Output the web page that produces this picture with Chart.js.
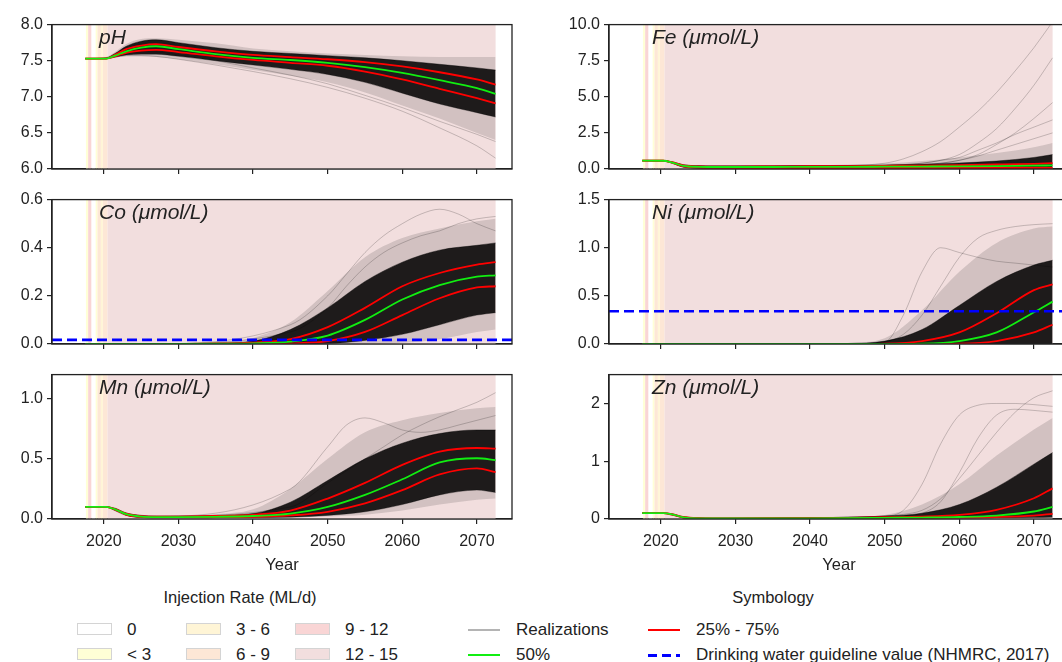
<!DOCTYPE html>
<html>
<head>
<meta charset="utf-8">
<script src="https://cdn.jsdelivr.net/npm/chart.js@4.4.1/dist/chart.umd.min.js"></script>
<style>
  body { margin: 0; width: 1062px; height: 662px; overflow: hidden; background: #fff; position: relative;
         font-family: "Liberation Sans", Arial, sans-serif; color: #222; }
  canvas { position: absolute; }
  .ptitle { position: absolute; font-style: italic; font-size: 21px; line-height: 1; white-space: nowrap; }
  .lgtitle { position: absolute; font-size: 16.5px; line-height: 1; transform: translateX(-50%); white-space: nowrap; }
  .lgtext { position: absolute; font-size: 17px; line-height: 1; white-space: nowrap; }
  .sw { position: absolute; width: 33px; height: 10px; border: 1.5px solid #d4d4d4; }
  .ln { position: absolute; width: 32px; height: 2px; }
</style>
</head>
<body>
<canvas id="cPH" width="530" height="198" style="left:0;top:11px"></canvas>
<canvas id="cFE" width="545" height="198" style="left:530px;top:11px"></canvas>
<canvas id="cCO" width="530" height="198" style="left:0;top:186px"></canvas>
<canvas id="cNI" width="545" height="198" style="left:530px;top:186px"></canvas>
<canvas id="cMN" width="530" height="214" style="left:0;top:361px"></canvas>
<canvas id="cZN" width="545" height="214" style="left:530px;top:361px"></canvas>

<div class="ptitle" style="left:99px;top:26px">pH</div>
<div class="ptitle" style="left:652px;top:26px">Fe (μmol/L)</div>
<div class="ptitle" style="left:99px;top:201px">Co (μmol/L)</div>
<div class="ptitle" style="left:652px;top:201px">Ni (μmol/L)</div>
<div class="ptitle" style="left:99px;top:376px">Mn (μmol/L)</div>
<div class="ptitle" style="left:652px;top:376px">Zn (μmol/L)</div>

<div class="lgtitle" style="left:240px;top:589px">Injection Rate (ML/d)</div>
<div class="lgtitle" style="left:773px;top:589px">Symbology</div>
<div id="legend"></div>

<script>
// shared time grid (years) for the summary curves
const years = [2017.5, 2020.3, 2021.5, 2023, 2025, 2027, 2030, 2035, 2040, 2045, 2050, 2055, 2060, 2065, 2070, 2072.5];
// time grid for single visible realizations
const outYears = [2017.5, 2020.3, 2023, 2025, 2045, 2050, 2052.5, 2055, 2057.5, 2060, 2062.5, 2065, 2067.5, 2070, 2072.5];
const xTicks = [2020, 2030, 2040, 2050, 2060, 2070];

// injection rate periods (class index into rateLabels)
const bandStart = [2017.6, 2017.9, 2018.35, 2018.9, 2019.15, 2019.6, 2019.87, 2020.5];
const bandEnd   = [2017.9, 2018.35, 2018.9, 2019.15, 2019.6, 2019.87, 2020.5, 2072.5];
const bandRate  = [1, 4, 0, 1, 3, 2, 3, 5];
const rateLabels = ['0', '< 3', '3 - 6', '6 - 9', '9 - 12', '12 - 15'];
const rateColors = ['#ffffff', '#ffffd6', '#fff5d6', '#fde7d6', '#f9d5d5', '#f2dede'];

// pH
const phP50 = [7.53, 7.53, 7.57, 7.63, 7.68, 7.70, 7.66, 7.59, 7.54, 7.51, 7.47, 7.41, 7.33, 7.23, 7.12, 7.04];
const phP75 = [7.53, 7.53, 7.58, 7.66, 7.71, 7.73, 7.69, 7.63, 7.58, 7.55, 7.52, 7.48, 7.42, 7.34, 7.24, 7.17];
const phP25 = [7.53, 7.53, 7.56, 7.61, 7.64, 7.65, 7.62, 7.56, 7.51, 7.47, 7.43, 7.35, 7.24, 7.11, 6.98, 6.91];
const phDenseHi = [7.53, 7.54, 7.60, 7.70, 7.77, 7.79, 7.75, 7.68, 7.63, 7.60, 7.57, 7.54, 7.50, 7.45, 7.40, 7.37];
const phDenseLo = [7.53, 7.53, 7.55, 7.58, 7.59, 7.59, 7.56, 7.50, 7.44, 7.38, 7.31, 7.20, 7.05, 6.90, 6.78, 6.72];
const phOuterHi = [7.53, 7.55, 7.62, 7.73, 7.80, 7.81, 7.79, 7.74, 7.67, 7.63, 7.60, 7.58, 7.56, 7.55, 7.55, 7.55];
const phOuterLo = [7.53, 7.53, 7.54, 7.56, 7.56, 7.55, 7.52, 7.45, 7.37, 7.29, 7.20, 7.06, 6.88, 6.70, 6.50, 6.40];
const phOut1 = [7.53, 7.53, 7.55, 7.57, 7.57, 7.56, 7.52, 7.44, 7.35, 7.25, 7.13, 6.98, 6.80, 6.57, 6.32, 6.15];
const phOut2 = [7.53, 7.53, 7.56, 7.60, 7.62, 7.62, 7.58, 7.50, 7.40, 7.30, 7.18, 7.02, 6.85, 6.66, 6.48, 6.38];

// Fe
const feP50 = [0.58, 0.57, 0.45, 0.22, 0.15, 0.14, 0.14, 0.14, 0.15, 0.15, 0.16, 0.17, 0.18, 0.20, 0.23, 0.25];
const feP75 = [0.58, 0.57, 0.47, 0.25, 0.18, 0.17, 0.17, 0.18, 0.19, 0.20, 0.22, 0.24, 0.27, 0.31, 0.36, 0.40];
const feP25 = [0.58, 0.57, 0.43, 0.18, 0.10, 0.08, 0.07, 0.07, 0.07, 0.07, 0.07, 0.07, 0.07, 0.07, 0.07, 0.07];
const feDenseHi = [0.58, 0.58, 0.50, 0.30, 0.22, 0.20, 0.20, 0.21, 0.22, 0.24, 0.27, 0.33, 0.42, 0.55, 0.80, 1.00];
const feDenseLo = [0.58, 0.56, 0.40, 0.12, 0.05, 0.03, 0.02, 0.02, 0.02, 0.02, 0.02, 0.02, 0.02, 0.02, 0.02, 0.02];
const feOuterHi = [0.58, 0.58, 0.52, 0.33, 0.25, 0.23, 0.23, 0.25, 0.27, 0.30, 0.38, 0.55, 0.80, 1.10, 1.50, 1.80];
const feOuterLo = [0.58, 0.55, 0.38, 0.10, 0.02, 0.01, 0.01, 0.01, 0.01, 0.01, 0.01, 0.01, 0.01, 0.01, 0.01, 0.01];
const feOut1 = [0.58, 0.58, 0.22, 0.2, 0.25, 0.40, 0.70, 1.2, 1.9, 2.9, 4.0, 5.3, 6.8, 8.4, 10.2];
const feOut2 = [0.58, 0.58, 0.22, 0.2, 0.22, 0.25, 0.30, 0.4, 0.6, 1.0, 1.8, 2.8, 4.2, 5.8, 7.7];
const feOut3 = [0.58, 0.58, 0.22, 0.2, 0.22, 0.25, 0.28, 0.3, 0.4, 0.6, 1.0, 1.7, 2.5, 3.5, 4.6];
const feOut4 = [0.58, 0.58, 0.22, 0.2, 0.22, 0.25, 0.30, 0.4, 0.6, 0.8, 1.3, 1.8, 2.4, 2.9, 3.4];
const feOut5 = [0.58, 0.58, 0.22, 0.2, 0.22, 0.24, 0.26, 0.3, 0.4, 0.6, 0.9, 1.3, 1.7, 2.1, 2.5];

// Co
const coP50 = [0, 0, 0, 0, 0, 0, 0, 0.001, 0.003, 0.010, 0.035, 0.100, 0.185, 0.245, 0.280, 0.285];
const coP75 = [0, 0, 0, 0, 0, 0, 0, 0.002, 0.006, 0.020, 0.070, 0.150, 0.240, 0.295, 0.330, 0.340];
const coP25 = [0, 0, 0, 0, 0, 0, 0, 0, 0.001, 0.003, 0.012, 0.050, 0.120, 0.190, 0.235, 0.240];
const coDenseHi = [0, 0, 0, 0, 0, 0, 0, 0.003, 0.012, 0.060, 0.150, 0.260, 0.340, 0.390, 0.410, 0.420];
const coDenseLo = [0, 0, 0, 0, 0, 0, 0, 0, 0, 0, 0.002, 0.015, 0.040, 0.080, 0.120, 0.130];
const coOuterHi = [0, 0, 0, 0, 0, 0, 0, 0.005, 0.025, 0.090, 0.220, 0.360, 0.440, 0.480, 0.510, 0.520];
const coOuterLo = [0, 0, 0, 0, 0, 0, 0, 0, 0, 0, 0, 0, 0.005, 0.020, 0.050, 0.060];
const coOut1 = [0, 0, 0, 0, 0.08, 0.20, 0.29, 0.38, 0.45, 0.50, 0.54, 0.56, 0.54, 0.50, 0.47];
const coOut2 = [0, 0, 0, 0, 0.05, 0.15, 0.24, 0.32, 0.38, 0.42, 0.45, 0.47, 0.50, 0.52, 0.53];
const coGuide = 0.017;

// Ni
const niP50 = [0, 0, 0, 0, 0, 0, 0, 0, 0, 0, 0, 0.003, 0.030, 0.120, 0.330, 0.440];
const niP75 = [0, 0, 0, 0, 0, 0, 0, 0, 0, 0, 0.003, 0.030, 0.120, 0.320, 0.560, 0.620];
const niP25 = [0, 0, 0, 0, 0, 0, 0, 0, 0, 0, 0, 0, 0.003, 0.030, 0.120, 0.200];
const niDenseHi = [0, 0, 0, 0, 0, 0, 0, 0, 0, 0.005, 0.030, 0.150, 0.400, 0.650, 0.820, 0.870];
const niDenseLo = [0, 0, 0, 0, 0, 0, 0, 0, 0, 0, 0, 0, 0, 0, 0, 0];
const niOuterHi = [0, 0, 0, 0, 0, 0, 0, 0, 0, 0.010, 0.060, 0.350, 0.750, 1.050, 1.200, 1.220];
const niOuterLo = [0, 0, 0, 0, 0, 0, 0, 0, 0, 0, 0, 0, 0, 0, 0, 0];
const niOut1 = [0, 0, 0, 0, 0, 0.02, 0.30, 0.75, 1.00, 0.95, 0.90, 0.86, 0.84, 0.82, 0.80];
const niOut2 = [0, 0, 0, 0, 0, 0.02, 0.10, 0.30, 0.60, 0.90, 1.10, 1.18, 1.22, 1.24, 1.25];
const niGuide = 0.34;

// Mn
const mnP50 = [0.10, 0.10, 0.080, 0.040, 0.020, 0.016, 0.016, 0.018, 0.025, 0.045, 0.10, 0.20, 0.33, 0.47, 0.505, 0.49];
const mnP75 = [0.10, 0.10, 0.082, 0.045, 0.024, 0.020, 0.020, 0.025, 0.035, 0.070, 0.17, 0.30, 0.45, 0.56, 0.590, 0.585];
const mnP25 = [0.10, 0.10, 0.078, 0.035, 0.017, 0.013, 0.013, 0.015, 0.018, 0.030, 0.06, 0.13, 0.24, 0.37, 0.420, 0.390];
const mnDenseHi = [0.10, 0.10, 0.090, 0.050, 0.030, 0.025, 0.025, 0.030, 0.045, 0.140, 0.32, 0.50, 0.63, 0.71, 0.74, 0.74];
const mnDenseLo = [0.10, 0.10, 0.070, 0.030, 0.012, 0.010, 0.010, 0.010, 0.012, 0.015, 0.03, 0.06, 0.12, 0.20, 0.24, 0.22];
const mnOuterHi = [0.10, 0.10, 0.090, 0.055, 0.035, 0.030, 0.030, 0.040, 0.080, 0.250, 0.50, 0.72, 0.82, 0.88, 0.92, 0.93];
const mnOuterLo = [0.10, 0.10, 0.065, 0.025, 0.010, 0.008, 0.008, 0.008, 0.010, 0.012, 0.02, 0.035, 0.07, 0.12, 0.16, 0.17];
const mnOut1 = [0.10, 0.10, 0.04, 0.02, 0.10, 0.30, 0.40, 0.50, 0.60, 0.70, 0.78, 0.85, 0.91, 0.97, 1.05];
const mnOut2 = [0.10, 0.10, 0.04, 0.02, 0.25, 0.60, 0.78, 0.84, 0.80, 0.74, 0.72, 0.74, 0.78, 0.82, 0.86];

// Zn
const znP50 = [0.10, 0.10, 0.080, 0.030, 0.012, 0.010, 0.010, 0.010, 0.012, 0.015, 0.020, 0.025, 0.035, 0.060, 0.130, 0.210];
const znP75 = [0.10, 0.10, 0.085, 0.035, 0.015, 0.012, 0.012, 0.013, 0.015, 0.020, 0.030, 0.040, 0.070, 0.160, 0.360, 0.530];
const znP25 = [0.10, 0.10, 0.075, 0.025, 0.010, 0.008, 0.008, 0.008, 0.010, 0.012, 0.015, 0.020, 0.025, 0.035, 0.060, 0.090];
const znDenseHi = [0.10, 0.10, 0.090, 0.040, 0.020, 0.015, 0.015, 0.017, 0.020, 0.030, 0.050, 0.100, 0.250, 0.550, 0.950, 1.150];
const znDenseLo = [0.10, 0.10, 0.070, 0.020, 0.006, 0.005, 0.005, 0.005, 0.006, 0.008, 0.010, 0.012, 0.015, 0.020, 0.025, 0.030];
const znOuterHi = [0.10, 0.10, 0.090, 0.045, 0.025, 0.020, 0.020, 0.020, 0.025, 0.040, 0.070, 0.250, 0.600, 1.100, 1.550, 1.750];
const znOuterLo = [0.10, 0.10, 0.065, 0.015, 0.004, 0.003, 0.003, 0.003, 0.004, 0.005, 0.006, 0.008, 0.010, 0.012, 0.015, 0.020];
const znOut1 = [0.10, 0.10, 0.03, 0.01, 0.03, 0.05, 0.15, 0.60, 1.30, 1.80, 1.97, 2.00, 2.00, 1.98, 1.95];
const znOut2 = [0.10, 0.10, 0.03, 0.01, 0.03, 0.05, 0.08, 0.15, 0.35, 0.70, 1.10, 1.50, 1.85, 2.10, 2.22];
const znOut3 = [0.10, 0.10, 0.03, 0.01, 0.03, 0.05, 0.06, 0.10, 0.30, 0.80, 1.40, 1.80, 1.90, 1.88, 1.85];

const xMin = 2013.05, xMax = 2074.7;
const fontFamily = '"Liberation Sans", Arial, sans-serif';

// pair the x grid with values
function series(xs, ys) {
  return xs.map((x, i) => ({ x: x, y: ys[i] }));
}

// coloured background periods for injection rate
const bandPlugin = {
  id: 'bands',
  beforeDatasetsDraw(chart) {
    const { ctx, chartArea: a, scales: { x } } = chart;
    ctx.save();
    ctx.beginPath();
    ctx.rect(a.left, a.top, a.width, a.height);
    ctx.clip();
    for (let i = 0; i < bandStart.length; i++) {
      const x0 = x.getPixelForValue(bandStart[i]);
      const x1 = x.getPixelForValue(bandEnd[i]);
      ctx.fillStyle = rateColors[bandRate[i]];
      ctx.fillRect(x0, a.top, x1 - x0, a.height);
    }
    ctx.restore();
  }
};

// blue dashed guideline value
const guidePlugin = {
  id: 'guide',
  afterDatasetsDraw(chart, args, opts) {
    if (opts.value == null) return;
    const { ctx, chartArea: a, scales: { y } } = chart;
    const py = y.getPixelForValue(opts.value);
    ctx.save();
    ctx.strokeStyle = '#0000ff';
    ctx.lineWidth = 2.6;
    ctx.setLineDash([10, 5]);
    ctx.beginPath();
    ctx.moveTo(a.left, py);
    ctx.lineTo(a.right, py);
    ctx.stroke();
    ctx.restore();
  }
};

// box around the axes
const framePlugin = {
  id: 'frame',
  afterDraw(chart) {
    const { ctx, chartArea: a } = chart;
    ctx.save();
    ctx.strokeStyle = '#222';
    ctx.lineWidth = 1.3;
    ctx.strokeRect(a.left, a.top, a.width, a.height);
    ctx.restore();
  }
};

function buildDatasets(p) {
  const clear = 'rgba(0,0,0,0)';
  const ds = [
    { data: series(years, p.outerLo), borderColor: clear, borderWidth: 0, fill: false, order: 10 },
    { data: series(years, p.outerHi), borderColor: clear, borderWidth: 0, fill: '-1', backgroundColor: 'rgba(30,30,30,0.15)', order: 9 },
    { data: series(years, p.denseLo), borderColor: 'rgba(0,0,0,0.3)', borderWidth: 1, fill: false, order: 8 },
    { data: series(years, p.denseHi), borderColor: 'rgba(0,0,0,0.4)', borderWidth: 1, fill: '-1', backgroundColor: 'rgba(0,0,0,0.86)', order: 7 }
  ];
  p.outliers.forEach(o => {
    ds.push({ data: series(p.outGrid, o), borderColor: 'rgba(0,0,0,0.2)', borderWidth: 1, fill: false, order: 6 });
  });
  ds.push({ data: series(years, p.p25), borderColor: '#ff0000', borderWidth: 1.8, fill: false, order: 2 });
  ds.push({ data: series(years, p.p75), borderColor: '#ff0000', borderWidth: 1.8, fill: false, order: 2 });
  ds.push({ data: series(years, p.p50), borderColor: '#11ee11', borderWidth: 1.8, fill: false, order: 1 });
  return ds;
}

function makePanel(id, p) {
  const bottom = !!p.bottom;
  new Chart(document.getElementById(id), {
    type: 'line',
    data: { datasets: buildDatasets(p) },
    options: {
      responsive: false,
      animation: false,
      layout: { padding: { top: 12, right: p.right ? 6 : 18, left: 0, bottom: 0 } },
      elements: { point: { radius: 0 }, line: { cubicInterpolationMode: 'monotone' } },
      plugins: { legend: { display: false }, tooltip: { enabled: false }, guide: { value: p.guide } },
      scales: {
        x: {
          type: 'linear', min: xMin, max: xMax,
          afterBuildTicks: s => { s.ticks = xTicks.map(v => ({ value: v })); },
          afterFit: s => { s.height = bottom ? 56 : 40; },
          grid: { drawOnChartArea: false, drawTicks: true, tickLength: 5, color: '#222', lineWidth: 1.2 },
          border: { color: '#222', width: 1.3 },
          ticks: { display: bottom, color: '#222', font: { family: fontFamily, size: 16 }, padding: 8, maxRotation: 0,
                   callback: v => String(v) },
          title: { display: bottom, text: 'Year', color: '#222', font: { family: fontFamily, size: 16.5 }, padding: { top: 2, bottom: 0 } }
        },
        y: {
          min: p.yMin, max: p.yMax,
          afterBuildTicks: s => { s.ticks = p.yTicks.map(v => ({ value: v })); },
          afterFit: s => { s.width = p.right ? 79 : 52; },
          grid: { drawOnChartArea: false, drawTicks: true, tickLength: 5, color: '#222', lineWidth: 1.2 },
          border: { color: '#222', width: 1.3 },
          ticks: { color: '#222', font: { family: fontFamily, size: 16 }, padding: 4,
                   callback: v => v.toFixed(p.dec) }
        }
      }
    },
    plugins: [bandPlugin, guidePlugin, framePlugin]
  });
}

makePanel('cPH', { yMin: 6, yMax: 8, yTicks: [6, 6.5, 7, 7.5, 8], dec: 1,
  p50: phP50, p25: phP25, p75: phP75, denseHi: phDenseHi, denseLo: phDenseLo, outerHi: phOuterHi, outerLo: phOuterLo,
  outGrid: years, outliers: [phOut1, phOut2] });
makePanel('cFE', { right: true, yMin: 0, yMax: 10, yTicks: [0, 2.5, 5, 7.5, 10], dec: 1,
  p50: feP50, p25: feP25, p75: feP75, denseHi: feDenseHi, denseLo: feDenseLo, outerHi: feOuterHi, outerLo: feOuterLo,
  outGrid: outYears, outliers: [feOut1, feOut2, feOut3, feOut4, feOut5] });
makePanel('cCO', { yMin: 0, yMax: 0.6, yTicks: [0, 0.2, 0.4, 0.6], dec: 1, guide: coGuide,
  p50: coP50, p25: coP25, p75: coP75, denseHi: coDenseHi, denseLo: coDenseLo, outerHi: coOuterHi, outerLo: coOuterLo,
  outGrid: outYears, outliers: [coOut1, coOut2] });
makePanel('cNI', { right: true, yMin: 0, yMax: 1.5, yTicks: [0, 0.5, 1, 1.5], dec: 1, guide: niGuide,
  p50: niP50, p25: niP25, p75: niP75, denseHi: niDenseHi, denseLo: niDenseLo, outerHi: niOuterHi, outerLo: niOuterLo,
  outGrid: outYears, outliers: [niOut1, niOut2] });
makePanel('cMN', { bottom: true, yMin: 0, yMax: 1.2, yTicks: [0, 0.5, 1], dec: 1,
  p50: mnP50, p25: mnP25, p75: mnP75, denseHi: mnDenseHi, denseLo: mnDenseLo, outerHi: mnOuterHi, outerLo: mnOuterLo,
  outGrid: outYears, outliers: [mnOut1, mnOut2] });
makePanel('cZN', { right: true, bottom: true, yMin: 0, yMax: 2.5, yTicks: [0, 1, 2], dec: 0,
  p50: znP50, p25: znP25, p75: znP75, denseHi: znDenseHi, denseLo: znDenseLo, outerHi: znOuterHi, outerLo: znOuterLo,
  outGrid: outYears, outliers: [znOut1, znOut2, znOut3] });

// legend: injection rate swatches (2 rows x 3 columns) and symbology lines
const legend = document.getElementById('legend');
const swCols = [77, 186, 295];
const rowTops = [623, 648];
rateLabels.forEach((lab, i) => {
  const col = Math.floor(i / 2), row = i % 2;
  const sw = document.createElement('div');
  sw.className = 'sw';
  sw.style.left = swCols[col] + 'px';
  sw.style.top = rowTops[row] + 'px';
  sw.style.background = rateColors[i];
  legend.appendChild(sw);
  const t = document.createElement('div');
  t.className = 'lgtext';
  t.style.left = (swCols[col] + 50) + 'px';
  t.style.top = (rowTops[row] - 2) + 'px';
  t.textContent = lab;
  legend.appendChild(t);
});

const symLabels = ['Realizations', '50%', '25% - 75%', 'Drinking water guideline value (NHMRC, 2017)'];
const symStyles = ['#b4b4b4', '#11ee11', '#ff0000', 'repeating-linear-gradient(90deg, #0000ff 0 9px, transparent 9px 14px)'];
const symCols = [468, 648];
symLabels.forEach((lab, i) => {
  const col = Math.floor(i / 2), row = i % 2;
  const ln = document.createElement('div');
  ln.className = 'ln';
  ln.style.left = symCols[col] + 'px';
  ln.style.top = (rowTops[row] + 6) + 'px';
  ln.style.background = symStyles[i];
  if (i === 3) ln.style.height = '3px';
  legend.appendChild(ln);
  const t = document.createElement('div');
  t.className = 'lgtext';
  t.style.left = (symCols[col] + 48) + 'px';
  t.style.top = (rowTops[row] - 2) + 'px';
  t.textContent = lab;
  legend.appendChild(t);
});
</script>
</body>
</html>
